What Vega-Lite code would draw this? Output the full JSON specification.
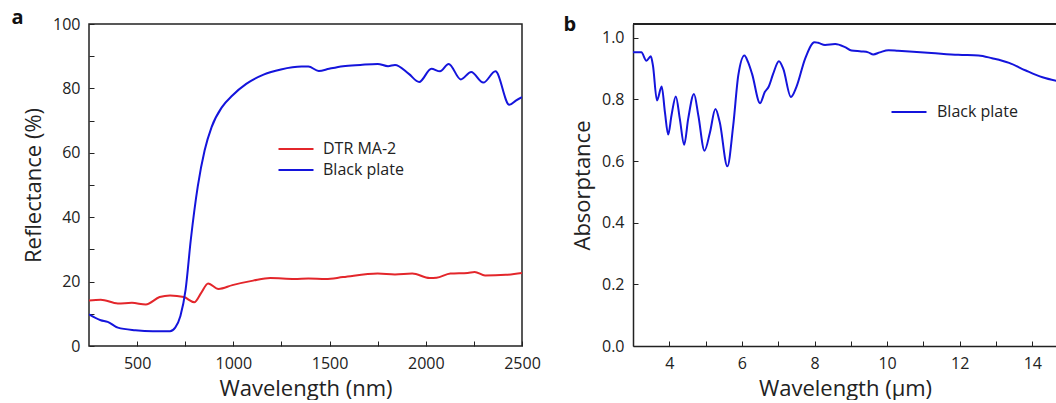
{
  "$schema": "https://vega.github.io/schema/vega-lite/v6.json",
  "background": "white",
  "padding": {"left": 10, "top": 7, "right": 0, "bottom": 0},
  "spacing": 21,
  "config": {
    "font": "Open Sans",
    "view": {"stroke": "#222", "strokeWidth": 1.5},
    "axis": {
      "grid": false,
      "domainColor": "#222",
      "domainWidth": 1.5,
      "tickColor": "#222",
      "tickSize": -5,
      "labelColor": "#222",
      "titleColor": "#222",
      "labelFontSize": 16,
      "titleFontSize": 22,
      "titleFontWeight": "normal",
      "labelFlush": false,
      "labelOverlap": false,
      "labelPadding": 14,
      "titlePadding": 7
    },
    "legend": {"labelFontSize": 16, "labelColor": "#222"},
    "title": {"fontSize": 20, "fontWeight": "bold", "color": "#111", "anchor": "start", "frame": "bounds"}
  },
  "resolve": {"scale": {"color": "independent"}},
  "datasets": {
    "a": [
      {"series": "DTR MA-2", "wl": 250, "r": 14.1},
      {"series": "DTR MA-2", "wl": 311, "r": 14.4},
      {"series": "DTR MA-2", "wl": 400, "r": 13.2},
      {"series": "DTR MA-2", "wl": 473, "r": 13.4},
      {"series": "DTR MA-2", "wl": 545, "r": 12.9},
      {"series": "DTR MA-2", "wl": 617, "r": 15.2},
      {"series": "DTR MA-2", "wl": 671, "r": 15.7},
      {"series": "DTR MA-2", "wl": 743, "r": 15.2},
      {"series": "DTR MA-2", "wl": 797, "r": 13.6},
      {"series": "DTR MA-2", "wl": 833, "r": 16.5},
      {"series": "DTR MA-2", "wl": 869, "r": 19.4},
      {"series": "DTR MA-2", "wl": 923, "r": 17.7},
      {"series": "DTR MA-2", "wl": 995, "r": 18.9},
      {"series": "DTR MA-2", "wl": 1103, "r": 20.3},
      {"series": "DTR MA-2", "wl": 1192, "r": 21.1},
      {"series": "DTR MA-2", "wl": 1318, "r": 20.8},
      {"series": "DTR MA-2", "wl": 1390, "r": 21.0},
      {"series": "DTR MA-2", "wl": 1480, "r": 20.8},
      {"series": "DTR MA-2", "wl": 1570, "r": 21.4},
      {"series": "DTR MA-2", "wl": 1750, "r": 22.5},
      {"series": "DTR MA-2", "wl": 1840, "r": 22.2},
      {"series": "DTR MA-2", "wl": 1930, "r": 22.5},
      {"series": "DTR MA-2", "wl": 2020, "r": 21.1},
      {"series": "DTR MA-2", "wl": 2056, "r": 21.2},
      {"series": "DTR MA-2", "wl": 2128, "r": 22.5},
      {"series": "DTR MA-2", "wl": 2218, "r": 22.7},
      {"series": "DTR MA-2", "wl": 2254, "r": 23.0},
      {"series": "DTR MA-2", "wl": 2308, "r": 21.9},
      {"series": "DTR MA-2", "wl": 2416, "r": 22.1},
      {"series": "DTR MA-2", "wl": 2500, "r": 22.7},
      {"series": "Black plate", "wl": 250, "r": 9.8},
      {"series": "Black plate", "wl": 311, "r": 8.0},
      {"series": "Black plate", "wl": 347, "r": 7.5},
      {"series": "Black plate", "wl": 400, "r": 5.7},
      {"series": "Black plate", "wl": 491, "r": 4.9},
      {"series": "Black plate", "wl": 581, "r": 4.6},
      {"series": "Black plate", "wl": 671, "r": 4.6},
      {"series": "Black plate", "wl": 698, "r": 5.7},
      {"series": "Black plate", "wl": 725, "r": 9.3},
      {"series": "Black plate", "wl": 752, "r": 17.5},
      {"series": "Black plate", "wl": 779, "r": 33.0},
      {"series": "Black plate", "wl": 815, "r": 49.5},
      {"series": "Black plate", "wl": 851, "r": 60.8},
      {"series": "Black plate", "wl": 887, "r": 68.0},
      {"series": "Black plate", "wl": 941, "r": 74.2},
      {"series": "Black plate", "wl": 995, "r": 77.8},
      {"series": "Black plate", "wl": 1067, "r": 81.4},
      {"series": "Black plate", "wl": 1157, "r": 84.3},
      {"series": "Black plate", "wl": 1247, "r": 85.9},
      {"series": "Black plate", "wl": 1355, "r": 86.8},
      {"series": "Black plate", "wl": 1390, "r": 86.8},
      {"series": "Black plate", "wl": 1444, "r": 85.4},
      {"series": "Black plate", "wl": 1498, "r": 86.1},
      {"series": "Black plate", "wl": 1570, "r": 86.9},
      {"series": "Black plate", "wl": 1660, "r": 87.3},
      {"series": "Black plate", "wl": 1750, "r": 87.6},
      {"series": "Black plate", "wl": 1804, "r": 86.9},
      {"series": "Black plate", "wl": 1840, "r": 87.3},
      {"series": "Black plate", "wl": 1912, "r": 84.5},
      {"series": "Black plate", "wl": 1966, "r": 82.0},
      {"series": "Black plate", "wl": 2029, "r": 86.1},
      {"series": "Black plate", "wl": 2074, "r": 85.3},
      {"series": "Black plate", "wl": 2119, "r": 87.6},
      {"series": "Black plate", "wl": 2182, "r": 82.8},
      {"series": "Black plate", "wl": 2236, "r": 85.1},
      {"series": "Black plate", "wl": 2299, "r": 81.8},
      {"series": "Black plate", "wl": 2362, "r": 85.3},
      {"series": "Black plate", "wl": 2434, "r": 74.9},
      {"series": "Black plate", "wl": 2470, "r": 76.3},
      {"series": "Black plate", "wl": 2500, "r": 77.3}
    ],
    "b": [
      {"series": "Black plate", "wl": 3.0, "a": 0.953},
      {"series": "Black plate", "wl": 3.23, "a": 0.953},
      {"series": "Black plate", "wl": 3.37, "a": 0.926},
      {"series": "Black plate", "wl": 3.49, "a": 0.94},
      {"series": "Black plate", "wl": 3.55, "a": 0.91},
      {"series": "Black plate", "wl": 3.66, "a": 0.797},
      {"series": "Black plate", "wl": 3.79, "a": 0.842},
      {"series": "Black plate", "wl": 3.88, "a": 0.758},
      {"series": "Black plate", "wl": 3.97, "a": 0.686},
      {"series": "Black plate", "wl": 4.06, "a": 0.748},
      {"series": "Black plate", "wl": 4.18, "a": 0.81},
      {"series": "Black plate", "wl": 4.29, "a": 0.737},
      {"series": "Black plate", "wl": 4.41, "a": 0.653},
      {"series": "Black plate", "wl": 4.52, "a": 0.737},
      {"series": "Black plate", "wl": 4.68, "a": 0.818},
      {"series": "Black plate", "wl": 4.8, "a": 0.748},
      {"series": "Black plate", "wl": 4.97, "a": 0.634},
      {"series": "Black plate", "wl": 5.12, "a": 0.693},
      {"series": "Black plate", "wl": 5.27, "a": 0.769},
      {"series": "Black plate", "wl": 5.39, "a": 0.726},
      {"series": "Black plate", "wl": 5.6, "a": 0.583},
      {"series": "Black plate", "wl": 5.76, "a": 0.715},
      {"series": "Black plate", "wl": 5.9, "a": 0.878},
      {"series": "Black plate", "wl": 6.07, "a": 0.943},
      {"series": "Black plate", "wl": 6.17, "a": 0.921},
      {"series": "Black plate", "wl": 6.28, "a": 0.883},
      {"series": "Black plate", "wl": 6.5, "a": 0.788},
      {"series": "Black plate", "wl": 6.63, "a": 0.824},
      {"series": "Black plate", "wl": 6.74, "a": 0.842},
      {"series": "Black plate", "wl": 6.86, "a": 0.883},
      {"series": "Black plate", "wl": 7.02, "a": 0.924},
      {"series": "Black plate", "wl": 7.14, "a": 0.899},
      {"series": "Black plate", "wl": 7.35, "a": 0.808},
      {"series": "Black plate", "wl": 7.5, "a": 0.84},
      {"series": "Black plate", "wl": 7.74, "a": 0.932},
      {"series": "Black plate", "wl": 8.0, "a": 0.986},
      {"series": "Black plate", "wl": 8.1, "a": 0.984},
      {"series": "Black plate", "wl": 8.29, "a": 0.977},
      {"series": "Black plate", "wl": 8.57, "a": 0.98},
      {"series": "Black plate", "wl": 8.84, "a": 0.97},
      {"series": "Black plate", "wl": 9.02, "a": 0.959},
      {"series": "Black plate", "wl": 9.29, "a": 0.956},
      {"series": "Black plate", "wl": 9.48, "a": 0.953},
      {"series": "Black plate", "wl": 9.62, "a": 0.946},
      {"series": "Black plate", "wl": 9.8, "a": 0.953},
      {"series": "Black plate", "wl": 10.04, "a": 0.96},
      {"series": "Black plate", "wl": 10.3, "a": 0.958},
      {"series": "Black plate", "wl": 11.22, "a": 0.951},
      {"series": "Black plate", "wl": 11.96, "a": 0.945},
      {"series": "Black plate", "wl": 12.52, "a": 0.943},
      {"series": "Black plate", "wl": 12.89, "a": 0.934},
      {"series": "Black plate", "wl": 13.36, "a": 0.919},
      {"series": "Black plate", "wl": 13.82, "a": 0.894},
      {"series": "Black plate", "wl": 14.28, "a": 0.872},
      {"series": "Black plate", "wl": 14.68, "a": 0.86}
    ]
  },
  "hconcat": [
    {
      "width": 433,
      "height": 322,
      "title": {"text": "a", "dx": -11, "offset": -28, "baseline": "alphabetic"},
      "data": {"name": "a"},
      "mark": {"type": "line", "strokeWidth": 2, "interpolate": "monotone", "clip": true},
      "encoding": {
        "x": {
          "field": "wl", "type": "quantitative",
          "scale": {"domain": [250, 2500], "nice": false, "zero": false},
          "axis": {
            "title": "Wavelength (nm)", "domain": false,
            "values": [500, 750, 1000, 1250, 1500, 1750, 2000, 2250, 2500],
            "labelExpr": "datum.value % 500 === 0 ? datum.label : ''",
            "format": "d"
          }
        },
        "y": {
          "field": "r", "type": "quantitative",
          "scale": {"domain": [0, 100], "nice": false},
          "axis": {
            "title": "Reflectance (%)", "domain": false,
            "values": [0, 10, 20, 30, 40, 50, 60, 70, 80, 90, 100],
            "labelExpr": "datum.value % 20 === 0 ? datum.label : ''"
          }
        },
        "color": {
          "field": "series", "type": "nominal",
          "scale": {"domain": ["DTR MA-2", "Black plate"], "range": ["#e3262b", "#1414dc"]},
          "legend": {
            "title": null, "orient": "none", "legendX": 197, "legendY": 115,
            "symbolType": "M-2,0H2", "symbolSize": 306, "symbolStrokeWidth": 2.2,
            "labelOffset": 17, "rowPadding": 3
          }
        }
      }
    },
    {
      "width": 424,
      "height": 322,
      "view": {"stroke": null},
      "title": {"text": "b", "dx": -8, "offset": -28, "baseline": "alphabetic"},
      "layer": [
        {
          "data": {"name": "b"},
          "mark": {"type": "line", "strokeWidth": 2, "interpolate": "monotone", "clip": true},
          "encoding": {
            "x": {
              "field": "wl", "type": "quantitative",
              "scale": {"domain": [3, 14.68], "nice": false, "zero": false},
              "axis": {
                "title": "Wavelength (μm)",
                "values": [4, 5, 6, 7, 8, 9, 10, 11, 12, 13, 14],
                "labelExpr": "datum.value % 2 === 0 ? datum.label : ''"
              }
            },
            "y": {
              "field": "a", "type": "quantitative",
              "scale": {"domain": [0, 1.045], "nice": false},
              "axis": {
                "title": "Absorptance",
                "values": [0, 0.1, 0.2, 0.3, 0.4, 0.5, 0.6, 0.7, 0.8, 0.9, 1.0],
                "labelExpr": "round(datum.value * 10) % 2 === 0 ? format(datum.value, '.1f') : ''"
              }
            },
            "color": {
              "field": "series", "type": "nominal",
              "scale": {"domain": ["Black plate"], "range": ["#1414dc"]},
              "legend": {
                "title": null, "orient": "none", "legendX": 266, "legendY": 78,
                "symbolType": "M-2,0H2", "symbolSize": 306, "symbolStrokeWidth": 2.2,
                "labelOffset": 18
              }
            }
          }
        },
        {
          "data": {"values": [{"edge": "top"}]},
          "mark": {"type": "rule", "color": "#222", "strokeWidth": 2},
          "encoding": {"y": {"datum": 1.045}}
        }
      ]
    }
  ]
}
